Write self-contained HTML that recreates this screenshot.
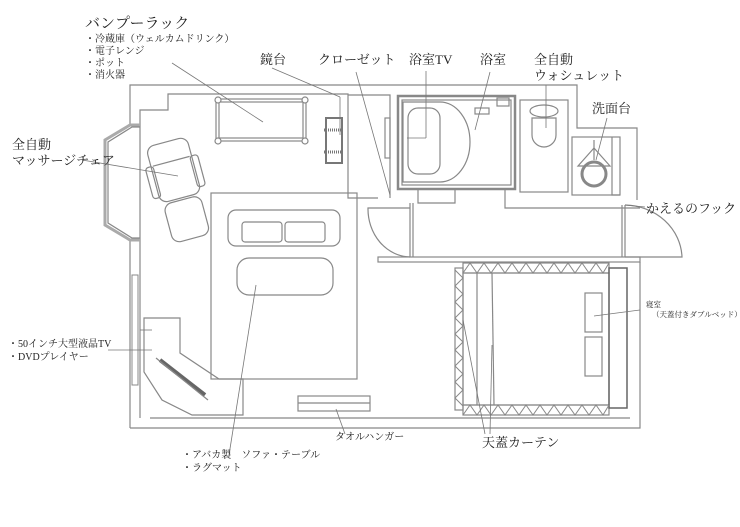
<!DOCTYPE html>
<html><head><meta charset="utf-8"><style>
body{margin:0;background:#fff;width:740px;height:522px;overflow:hidden}
svg text{font-family:"Liberation Serif","Noto Serif CJK SC","Noto Sans CJK JP",serif;fill:#222}
</style></head><body>
<svg width="740" height="522" viewBox="0 0 740 522" xmlns="http://www.w3.org/2000/svg">
<g fill="none" stroke="#888" stroke-width="1.2">
<path d="M130,428 V240 M130,125 V85 H577 V128 H637 V200 M640,262 V428 H130"/>
<path d="M140,418 V110 H168 V94 H348 V198 H378"/>
<path d="M150,418 H630"/>
<path d="M140,125 L130,125 L105,140 V225 L130,240 H140" stroke="#aaa" stroke-width="3"/>
<path d="M140,127 L132,127 L108,142 V223 L132,238 H140"/>
<rect x="132" y="275" width="6" height="110" stroke-width="1"/>
<rect x="216" y="99" width="90" height="42"/>
<rect x="219" y="102" width="84" height="36"/>
<circle cx="218" cy="100" r="3" fill="#fff"/><circle cx="305" cy="100" r="3" fill="#fff"/>
<circle cx="218" cy="141" r="3" fill="#fff"/><circle cx="305" cy="141" r="3" fill="#fff"/>
<rect x="326" y="118" width="16" height="45" stroke="#777" stroke-width="2"/>
<line x1="324" y1="130" x2="344" y2="130" stroke="#777" stroke-width="3" stroke-dasharray="1 1"/>
<line x1="324" y1="152" x2="344" y2="152" stroke="#777" stroke-width="3" stroke-dasharray="1 1"/>
<g transform="rotate(-15 180 190)">
<rect x="158" y="140" width="42" height="58" rx="8"/>
<rect x="152" y="160" width="8" height="32" rx="3"/>
<rect x="198" y="160" width="8" height="32" rx="3"/>
<rect x="160" y="200" width="38" height="40" rx="8"/>
<line x1="160" y1="160" x2="198" y2="160"/>
</g>
<rect x="211" y="193" width="146" height="186"/>
<rect x="228" y="210" width="112" height="36" rx="8"/>
<rect x="242" y="222" width="40" height="20" rx="3"/>
<rect x="285" y="222" width="40" height="20" rx="3"/>
<rect x="237" y="258" width="96" height="37" rx="12"/>
<path d="M144,318 H180 V353 L219,379 H243 V415 H192 L162,400 L144,372 Z"/>
<path d="M160,360 L205,395" stroke="#666" stroke-width="4"/>
<path d="M156,358 L208,400" />
<rect x="298" y="396" width="72" height="15"/>
<line x1="298" y1="403" x2="370" y2="403"/>
<path d="M348,95 H390 V198"/>
<rect x="385" y="118" width="5" height="40"/>
<rect x="398" y="96" width="117" height="93" stroke-width="2.5" stroke="#888"/>
<rect x="402" y="100" width="109" height="85"/>
<path d="M403,102 H440 A30 40 0 0 1 440,182 H403 Z"/>
<rect x="408" y="108" width="32" height="66" rx="10"/>
<rect x="497" y="98" width="12" height="8"/>
<rect x="475" y="108" width="14" height="6"/>
<path d="M418,190 V203 H455 V190 M505,190 V208 H640"/>
<rect x="520" y="100" width="48" height="92"/>
<ellipse cx="544" cy="111" rx="14" ry="6"/>
<path d="M532,118 H556 V135 A12 12 0 0 1 532,135 Z"/>
<rect x="572" y="137" width="48" height="58"/>
<path d="M612,137 V195 H620"/>
<path d="M578,166 L594,148 L610,166 Z"/>
<circle cx="594" cy="174" r="12" stroke-width="3" stroke="#888"/>
<line x1="594" y1="140" x2="594" y2="160"/>
<path d="M410,203 V257 M413,203 V257 M622,205 V257 M625,205 V257"/>
<path d="M410,257 A43 48 0 0 1 368,208 H410"/>
<path d="M625,205 A58 54 0 0 1 682,257 H625"/>
<rect x="378" y="257" width="262" height="5"/>
<rect x="463" y="263" width="146" height="10"/>
<rect x="463" y="405" width="146" height="10"/>
<rect x="455" y="268" width="8" height="142"/>
<rect x="463" y="273" width="146" height="132"/>
<rect x="609" y="268" width="18" height="140" stroke="#666" stroke-width="1.5"/>
<rect x="585" y="293" width="17" height="39"/>
<rect x="585" y="337" width="17" height="39"/>
<line x1="477" y1="273" x2="477" y2="405"/>
<line x1="492" y1="273" x2="494" y2="405"/>
<path d="M463,273 L470,263 L477,273 L484,263 L491,273 L498,263 L505,273 L512,263 L519,273 L526,263 L533,273 L540,263 L547,273 L554,263 L561,273 L568,263 L575,273 L582,263 L589,273 L596,263 L603,273 L609,263" stroke-width="1"/>
<path d="M463,415 L470,405 L477,415 L484,405 L491,415 L498,405 L505,415 L512,405 L519,415 L526,405 L533,415 L540,405 L547,415 L554,405 L561,415 L568,405 L575,415 L582,405 L589,415 L596,405 L603,415 L609,405" stroke-width="1"/>
<path d="M455,270 L463,278 L455,286 L463,294 L455,302 L463,310 L455,318 L463,326 L455,334 L463,342 L455,350 L463,358 L455,366 L463,374 L455,382 L463,390 L455,398 L463,406" stroke-width="1"/>
</g>
<g stroke="#777" stroke-width="0.8" fill="none">
<line x1="172" y1="63" x2="263" y2="122"/>
<line x1="272" y1="68" x2="340" y2="97"/><line x1="340" y1="97" x2="340" y2="135"/>
<line x1="356" y1="72" x2="390" y2="195"/>
<line x1="426" y1="71" x2="426" y2="138"/><line x1="426" y1="138" x2="407" y2="138"/>
<line x1="490" y1="72" x2="475" y2="130"/>
<line x1="546" y1="85" x2="546" y2="128"/>
<line x1="607" y1="118" x2="596" y2="160"/>
<line x1="645" y1="207" x2="625" y2="205"/>
<line x1="82" y1="160" x2="178" y2="176"/>
<line x1="108" y1="350" x2="152" y2="350"/>
<line x1="140" y1="330" x2="152" y2="330"/>
<line x1="256" y1="285" x2="229" y2="455"/>
<line x1="336" y1="409" x2="345" y2="434"/>
<line x1="463" y1="320" x2="485" y2="434"/>
<line x1="492" y1="345" x2="490" y2="434"/>
<line x1="594" y1="316" x2="640" y2="310"/>
</g>
<text x="85" y="28" font-size="15">バンプーラック</text>
<g font-size="10">
<text x="85" y="42">・冷蔵庫（ウェルカムドリンク）</text>
<text x="85" y="54">・電子レンジ</text>
<text x="85" y="66">・ポット</text>
<text x="85" y="78">・消火器</text>
</g>
<g font-size="13">
<text x="260" y="64">鏡台</text>
<text x="318" y="64">クローゼット</text>
<text x="409" y="64">浴室TV</text>
<text x="480" y="64">浴室</text>
<text x="534" y="64">全自動</text>
<text x="534" y="80">ウォシュレット</text>
<text x="592" y="113">洗面台</text>
<text x="646" y="213">かえるのフック</text>
<text x="12" y="149">全自動</text>
<text x="12" y="165">マッサージチェア</text>
<text x="482" y="447">天蓋カーテン</text>
</g>
<g font-size="10">
<text x="8" y="347">・50インチ大型液晶TV</text>
<text x="8" y="360">・DVDプレイヤー</text>
<text x="335" y="440">タオルハンガー</text>
<text x="182" y="458">・アバカ製　ソファ・テーブル</text>
<text x="182" y="471">・ラグマット</text>
</g>
<g font-size="7.5">
<text x="646" y="307">寝室</text>
<text x="652" y="317">（天蓋付きダブルベッド）</text>
</g>
</svg>
</body></html>
